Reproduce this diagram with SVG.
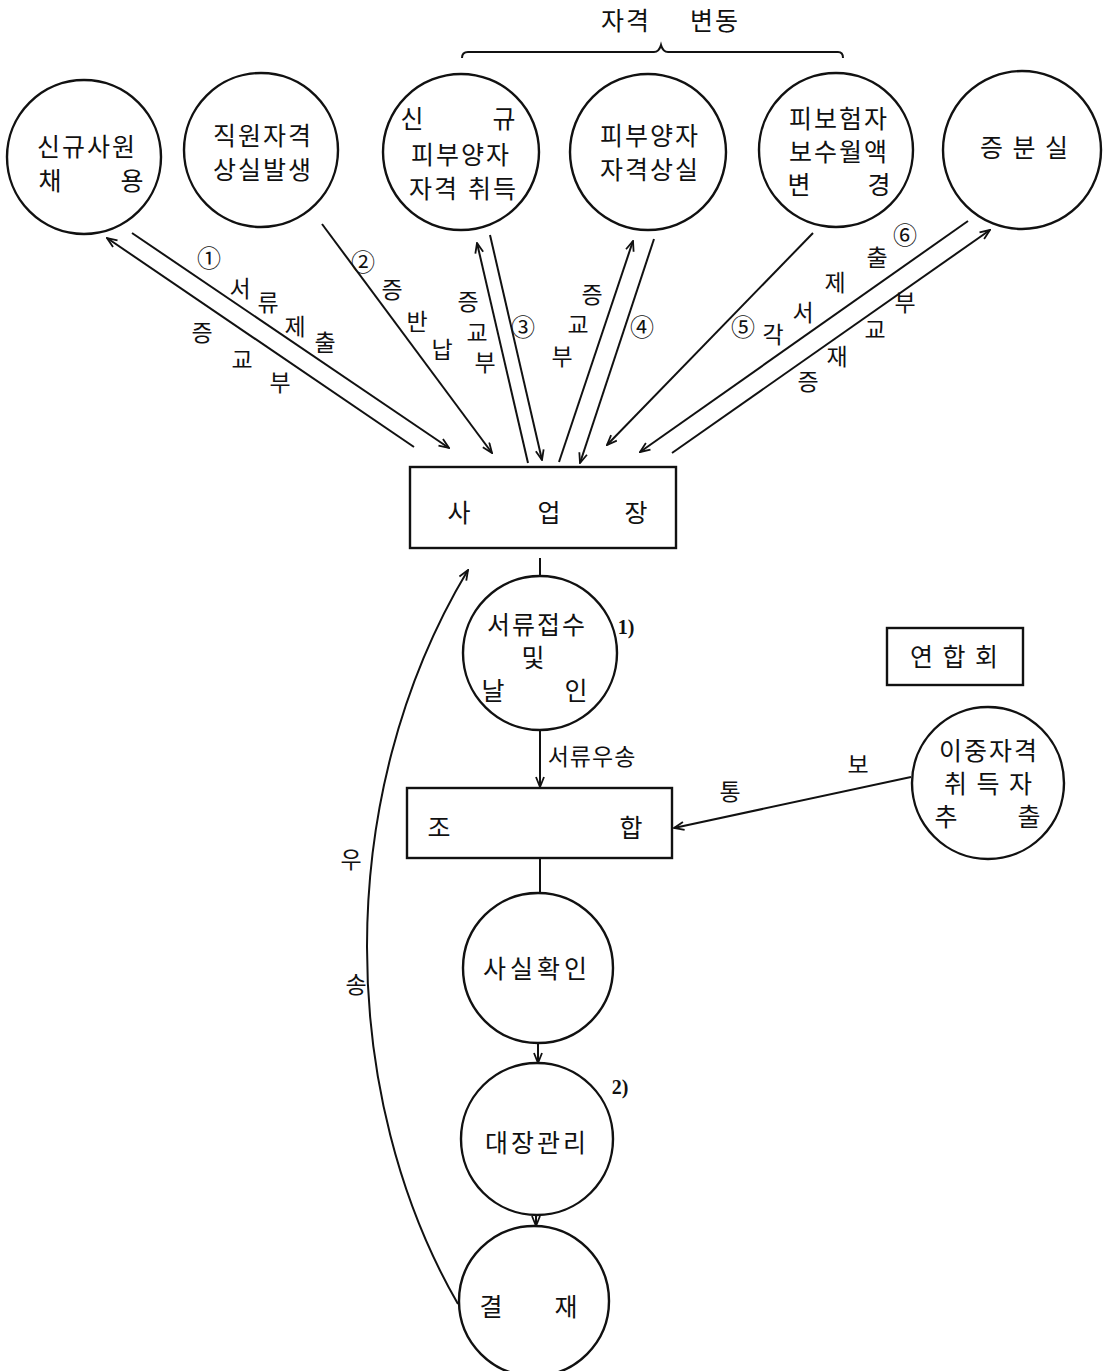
<svg xmlns="http://www.w3.org/2000/svg" width="1109" height="1371" viewBox="0 0 1109 1371">
<style>
.n{fill:none;stroke:#111;stroke-width:2.4}
.c{fill:none;stroke:#111;stroke-width:2}
text{font-family:"Noto Sans CJK KR","Noto Sans",sans-serif;fill:#111}
.t{font-size:25px;text-anchor:middle;letter-spacing:2px}
.w{letter-spacing:4px}
.l{font-size:23px;text-anchor:middle}
.num{font-family:"Noto Sans CJK KR",sans-serif;font-size:24px;text-anchor:middle}
.fn{font-family:"Liberation Serif",serif;font-size:20px;font-weight:bold;text-anchor:middle}
</style>
<defs>
<marker id="ah" viewBox="0 0 12 10" refX="11" refY="5" markerWidth="12" markerHeight="10" orient="auto" markerUnits="userSpaceOnUse">
<path d="M1,1 L11,5 L1,9" fill="none" stroke="#111" stroke-width="1.8"/>
</marker>
</defs>
<rect width="1109" height="1371" fill="#fff"/>

<g id="brace">
<path class="c" d="M462,58 Q462,52 468,52 L654,52 Q659,52 661,45 Q663,52 668,52 L838,52 Q843,52 843,58"/>
<text class="t" x="626" y="30">자격</text>
<text class="t" x="715" y="30">변동</text>
</g>

<g id="n1">
<circle class="n" cx="84" cy="157" r="77"/>
<text class="t" x="87" y="156">신규사원</text>
<text class="t" y="190"><tspan x="51">채</tspan><tspan x="133">용</tspan></text>
</g>
<g id="n2">
<circle class="n" cx="261" cy="150" r="77"/>
<text class="t" x="263" y="145">직원자격</text>
<text class="t" x="263" y="179">상실발생</text>
</g>
<g id="n3">
<circle class="n" cx="461" cy="152" r="78"/>
<text class="t" y="128"><tspan x="413">신</tspan><tspan x="505">규</tspan></text>
<text class="t" x="461" y="164">피부양자</text>
<text class="t" y="198"><tspan x="434">자격</tspan><tspan x="493">취득</tspan></text>
</g>
<g id="n4">
<circle class="n" cx="648" cy="152" r="78"/>
<text class="t" x="650" y="145">피부양자</text>
<text class="t" x="650" y="179">자격상실</text>
</g>
<g id="n5">
<circle class="n" cx="836" cy="150" r="77"/>
<text class="t" x="839" y="128">피보험자</text>
<text class="t" x="839" y="161">보수월액</text>
<text class="t" y="194"><tspan x="800">변</tspan><tspan x="880">경</tspan></text>
</g>
<g id="n6">
<circle class="n" cx="1022" cy="150" r="79"/>
<text class="t" x="1025" y="157" xml:space="preserve">증 분 실</text>
</g>

<g id="n7">
<rect class="n" x="410" y="467" width="266" height="81"/>
<text class="t" x="460" y="522">사</text>
<text class="t" x="550" y="522">업</text>
<text class="t" x="637" y="522">장</text>
</g>

<g id="n8">
<circle class="n" cx="540" cy="653" r="77"/>
<text class="t" x="537" y="634">서류접수</text>
<text class="t" x="534" y="667">및</text>
<text class="t" y="700"><tspan x="494">날</tspan><tspan x="577">인</tspan></text>
<text class="fn" x="626" y="634">1)</text>
</g>

<g id="n9">
<rect class="n" x="407" y="788" width="265" height="70"/>
<text class="t" x="440" y="837">조</text>
<text class="t" x="632" y="837">합</text>
</g>

<g id="n10">
<rect class="n" x="887" y="628" width="136" height="57"/>
<text class="t" x="955" y="666" xml:space="preserve">연 합 회</text>
</g>

<g id="n11">
<circle class="n" cx="988" cy="783" r="76"/>
<text class="t" x="989" y="760">이중자격</text>
<text class="t" x="989" y="793" xml:space="preserve">취 득 자</text>
<text class="t" y="826"><tspan x="947">추</tspan><tspan x="1030">출</tspan></text>
</g>

<g id="n12">
<circle class="n" cx="538" cy="968" r="75"/>
<text class="t w" x="537" y="978">사실확인</text>
</g>

<g id="n13">
<circle class="n" cx="537" cy="1139" r="76"/>
<text class="t" x="537" y="1152" style="letter-spacing:3px">대장관리</text>
<text class="fn" x="620" y="1094">2)</text>
</g>

<g id="n14">
<circle class="n" cx="534" cy="1301" r="75"/>
<text class="t" x="492" y="1316">결</text>
<text class="t" x="567" y="1316">재</text>
</g>

<g id="connectors">
<line class="c" x1="414" y1="447" x2="107" y2="238" marker-end="url(#ah)"/>
<line class="c" x1="132" y1="233" x2="449" y2="448" marker-end="url(#ah)"/>
<line class="c" x1="322" y1="224" x2="492" y2="453" marker-end="url(#ah)"/>
<line class="c" x1="528" y1="463" x2="477" y2="243" marker-end="url(#ah)"/>
<line class="c" x1="490" y1="235" x2="542" y2="460" marker-end="url(#ah)"/>
<line class="c" x1="559" y1="462" x2="633" y2="241" marker-end="url(#ah)"/>
<line class="c" x1="654" y1="239" x2="580" y2="463" marker-end="url(#ah)"/>
<line class="c" x1="813" y1="233" x2="607" y2="445" marker-end="url(#ah)"/>
<line class="c" x1="968" y1="221" x2="640" y2="452" marker-end="url(#ah)"/>
<line class="c" x1="672" y1="453" x2="990" y2="230" marker-end="url(#ah)"/>
<line class="c" x1="540" y1="558" x2="540" y2="576"/>
<line class="c" x1="540" y1="731" x2="540" y2="787" marker-end="url(#ah)"/>
<line class="c" x1="540" y1="859" x2="540" y2="893"/>
<line class="c" x1="538" y1="1044" x2="538" y2="1063" marker-end="url(#ah)"/>
<line class="c" x1="536" y1="1215" x2="536" y2="1226" marker-end="url(#ah)"/>
<line class="c" x1="911" y1="777" x2="674" y2="828" marker-end="url(#ah)"/>
<path class="c" d="M458,1304 C340,1100 330,800 468,570" marker-end="url(#ah)"/>

<text class="num" x="209" y="267">①</text>
<text class="l" x="240" y="297">서</text>
<text class="l" x="268" y="311">류</text>
<text class="l" x="295" y="335">제</text>
<text class="l" x="325" y="351">출</text>
<text class="l" x="202" y="341">증</text>
<text class="l" x="242" y="368">교</text>
<text class="l" x="280" y="391">부</text>

<text class="num" x="363" y="271">②</text>
<text class="l" x="392" y="298">증</text>
<text class="l" x="417" y="330">반</text>
<text class="l" x="442" y="358">납</text>

<text class="l" x="468" y="310">증</text>
<text class="l" x="477" y="341">교</text>
<text class="l" x="485" y="371">부</text>
<text class="num" x="523" y="336">③</text>

<text class="l" x="592" y="303">증</text>
<text class="l" x="578" y="333">교</text>
<text class="l" x="562" y="365">부</text>
<text class="num" x="642" y="336">④</text>

<text class="num" x="743" y="336">⑤</text>
<text class="l" x="773" y="343">각</text>
<text class="l" x="803" y="321">서</text>
<text class="l" x="835" y="291">제</text>
<text class="l" x="877" y="266">출</text>
<text class="num" x="905" y="244">⑥</text>

<text class="l" x="905" y="311">부</text>
<text class="l" x="875" y="338">교</text>
<text class="l" x="837" y="365">재</text>
<text class="l" x="808" y="390">증</text>

<text class="l" x="592" y="765" style="letter-spacing:1px">서류우송</text>
<text class="l" x="858" y="773">보</text>
<text class="l" x="730" y="800">통</text>
<text class="l" x="351" y="868">우</text>
<text class="l" x="356" y="993">송</text>
</g>
</svg>
